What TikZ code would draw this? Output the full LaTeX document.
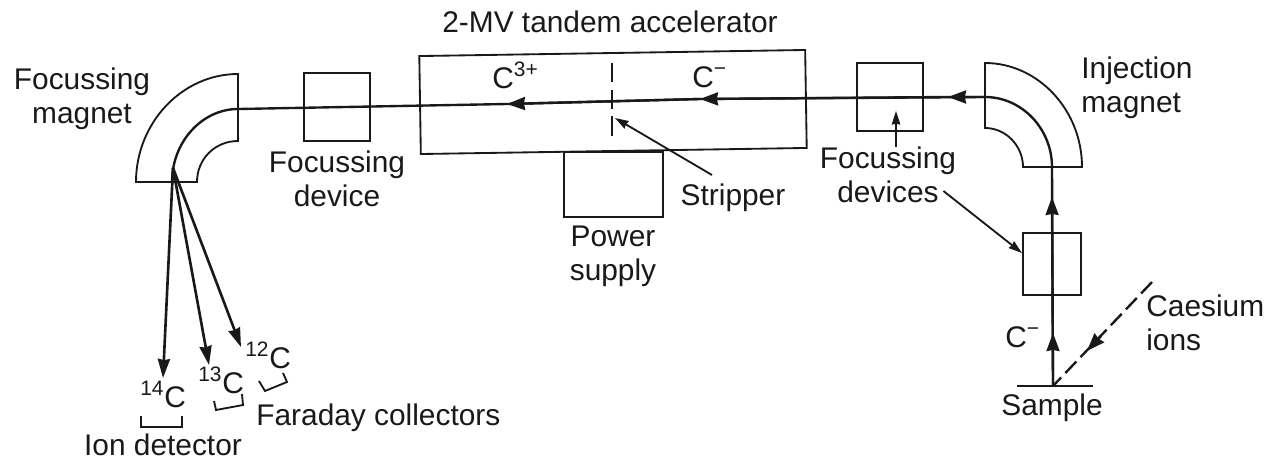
\documentclass[tikz,border=0pt]{standalone}
\usepackage{fontspec}
\setmainfont{Liberation Sans}
\usetikzlibrary{arrows.meta}
\definecolor{inkcol}{gray}{0.1}
\newcommand{\isotope}[2]{\textsuperscript{#1}#2}
\tikzset{
    label text/.style={font=\fontsize{17}{19.4}\selectfont, text=inkcol, inner sep=0pt, align=center},
    iso text/.style={font=\fontsize{17}{19.4}\selectfont, text=inkcol, inner sep=0pt, anchor=base west},
    device box/.style={draw=inkcol, line width=1.05pt, inner sep=0pt},
    thin line/.style={draw=inkcol, line width=1.05pt},
    beam line/.style={draw=inkcol, line width=1.35pt},
    beam arrow/.style={beam line, -{Stealth[length=0.36cm, width=0.26cm, inset=0.6pt]}},
    split arrow/.style={draw=inkcol, line width=1.5pt, -{Stealth[length=0.38cm, width=0.24cm, inset=0.6pt]}},
    note arrow/.style={thin line, -{Stealth[length=0.27cm, width=0.17cm, inset=0.5pt]}}
}
\begin{document}
\begin{tikzpicture}[x=0.02cm, y=-0.02cm]
    \useasboundingbox (0,0) rectangle (1268,460);

    % Boxes
    \node[device box, minimum width=1.32cm, minimum height=1.36cm] (focusdev) at (337,107) {};
    \node[device box, minimum width=7.72cm, minimum height=1.96cm, rotate=0.9] (accel) at (613,102) {};
    \node[device box, minimum width=1.98cm, minimum height=1.30cm] (power) at (613.5,184.5) {};
    \node[device box, minimum width=1.32cm, minimum height=1.36cm] (injdev) at (890,97) {};
    \node[device box, minimum width=1.16cm, minimum height=1.24cm] (lowdev) at (1052,264) {};

    % Focussing magnet
    \coordinate (focusouta) at (238,74);
    \coordinate (focusoutb) at (136,182);
    \coordinate (focusina) at (238,141);
    \coordinate (focusinb) at (197,182);
    \coordinate (focusmid) at (238,109);
    \coordinate (fan) at (172,182);
    \draw[thin line] (focusouta) .. controls (182,74) and (136,123) .. (focusoutb)
        -- (focusinb) .. controls (197,159) and (215,141) .. (focusina) -- cycle;

    % Injection magnet
    \coordinate (injouta) at (985,63);
    \coordinate (injoutb) at (1082,167);
    \coordinate (injina) at (985,128);
    \coordinate (injinb) at (1023,167);
    \coordinate (injmid) at (985,97);
    \coordinate (injlow) at (1052,167);
    \draw[thin line] (injouta) .. controls (1038,63) and (1082,110) .. (injoutb)
        -- (injinb) .. controls (1023,146) and (1006,128) .. (injina) -- cycle;

    % Beam from sample to the collectors
    \node[inner sep=0pt] (sample) at (1053,386) {};
    \coordinate (tipa) at (1053,333);
    \coordinate (tipb) at (1052,197);
    \coordinate (tipc) at (948,97);
    \coordinate (tipd) at (700,99);
    \coordinate (tipe) at (507,104);
    \draw[beam line] (sample) -- (injlow) .. controls (1052,129) and (1022,97) .. (injmid)
        -- (tipc) -- (tipd) -- (tipe) -- (focusmid) .. controls (202,109) and (172,142) .. (fan);
    \draw[beam arrow] (sample) -- (tipa);
    \draw[beam arrow] (sample) -- (tipb);
    \draw[beam arrow] (injmid) -- (tipc);
    \draw[beam arrow] (injmid) -- (tipd);
    \draw[beam arrow] (tipd) -- (tipe);

    % Sample plate and caesium ions
    \coordinate (platea) at (1017,386);
    \coordinate (plateb) at (1093,386);
    \coordinate (cstop) at (1152,282);
    \coordinate (cstip) at (1087,351);
    \coordinate (cshead) at (1101,336);
    \draw[thin line] (platea) -- (plateb);
    \draw[beam line, dash pattern=on 9pt off 3.5pt] (cstop) -- (sample);
    \draw[beam arrow] (cshead) -- (cstip);

    % Stripper
    \coordinate (stripa) at (612,63);
    \coordinate (stripb) at (612,136);
    \draw[beam line, dash pattern=on 11pt off 4.2pt] (stripa) -- (stripb);

    % Split beams
    \coordinate (fanstart) at (173,168);
    \coordinate (tipf) at (163,378);
    \coordinate (tipg) at (209,365);
    \coordinate (tiph) at (241,347);
    \draw[split arrow] (fanstart) -- (tipf);
    \draw[split arrow] (fanstart) -- (tipg);
    \draw[split arrow] (fanstart) -- (tiph);

    % Collectors
    \draw[thin line] (141,416) -- (141,427) -- (182,427) -- (182,416);
    \draw[thin line] (214,401) -- (216,410) -- (243,405) -- (242,394);
    \draw[thin line] (259,381) -- (265,391) -- (287,382) -- (283,373);

    % Labels
    \node[label text] (focusmag) at (82,99) {Focussing\\magnet};
    \node[label text] (focuslab) at (337,179) {Focussing\\device};
    \node[label text, anchor=base] (title) at (610,32) {2-MV tandem accelerator};
    \node[iso text] (cthree) at (492,88) {C\textsuperscript{3+}};
    \node[iso text] (cminus) at (692,87) {C\textsuperscript{−}};
    \node[label text] (powerlab) at (613,256) {Power\\supply};
    \node[label text, anchor=base] (striplab) at (733,205) {Stripper};
    \node[label text] (devlab) at (888,175) {Focussing\\devices};
    \node[label text, align=left, anchor=west] (injlab) at (1081,88) {Injection\\magnet};
    \node[label text, align=left, anchor=west] (cslab) at (1146,323) {Caesium\\ions};
    \node[iso text] (clow) at (1005,347) {C\textsuperscript{−}};
    \node[label text, anchor=base] (samplelab) at (1052,415) {Sample};
    \node[iso text] (cfourteen) at (140,407) {\isotope{14}{C}};
    \node[iso text] (cthirteen) at (198,393) {\isotope{13}{C}};
    \node[iso text] (ctwelve) at (245,368) {\isotope{12}{C}};
    \node[iso text] (faraday) at (256,425) {Faraday collectors};
    \node[label text, anchor=base] (detector) at (163,455) {Ion detector};

    % Pointers
    \coordinate (striptip) at (615,118);
    \coordinate (devtipa) at (896,111);
    \coordinate (devtipb) at (1022,253);
    \draw[note arrow] (712,175) -- (striptip);
    \draw[note arrow] (devlab.north -| devtipa) -- (devtipa);
    \draw[note arrow] (devlab.east) ++(-13,16) -- (devtipb);
\end{tikzpicture}
\end{document}
